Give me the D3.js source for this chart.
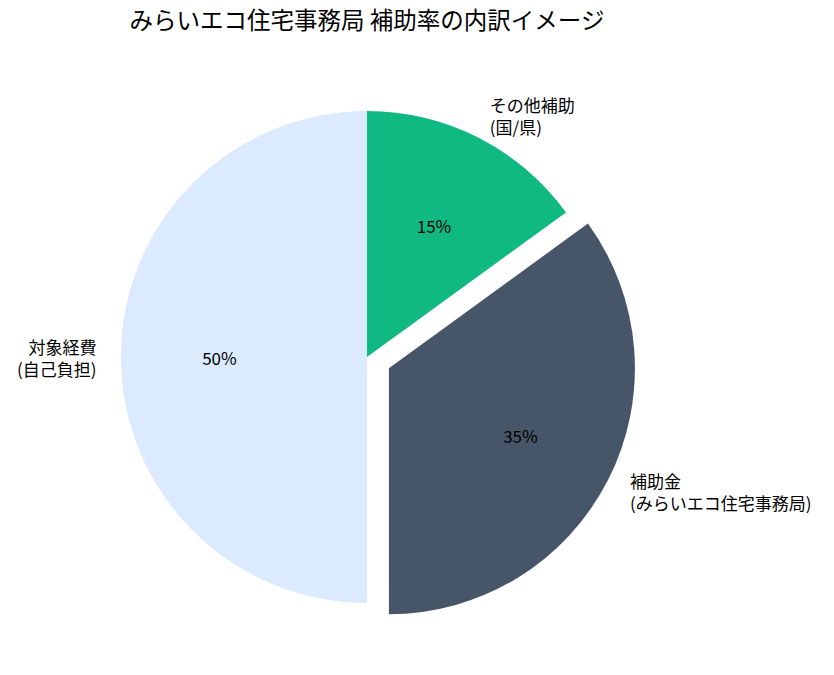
<!DOCTYPE html>
<html><head><meta charset="utf-8">
<script src="https://cdn.jsdelivr.net/npm/d3@7"></script>
<style>body{margin:0;background:#fff}text{font-family:"Noto Sans CJK JP","Noto Sans",sans-serif}</style>
</head><body><div id="chart"></div>
<script>
// Slice data, listed clockwise from 12 o'clock
const labels = [["その他補助", "(国/県)"], ["補助金", "(みらいエコ住宅事務局)"], ["対象経費", "(自己負担)"]];
const values = [15, 35, 50];
const colors = ["#10b981", "#475569", "#dbeafe"];
const explode = [0, 0.1, 0];

const width = 834, height = 675;
const cx = 367, cy = 357, r = 246;

const svg = d3.select("#chart").append("svg")
    .attr("width", width).attr("height", height);

svg.append("text")
    .attr("x", cx).attr("y", 29)
    .attr("text-anchor", "middle")
    .style("font-size", "23.5px")
    .text("みらいエコ住宅事務局 補助率の内訳イメージ");

const pie = d3.pie().sort(null).value(d => d.v);
const arcs = pie(values.map((v, i) => ({ v, i })));
const arc = d3.arc().innerRadius(0).outerRadius(r);

const g = svg.append("g").attr("transform", `translate(${cx},${cy})`);

arcs.forEach(a => {
    const i = a.data.i;
    const mid = (a.startAngle + a.endAngle) / 2;
    const dx = Math.sin(mid), dy = -Math.cos(mid);
    const off = explode[i] * r;
    const wg = g.append("g").attr("transform", `translate(${dx * off},${dy * off})`);
    wg.append("path").attr("d", arc(a)).attr("fill", colors[i]);

    wg.append("text")
        .attr("x", dx * r * 0.6).attr("y", dy * r * 0.6)
        .attr("text-anchor", "middle").attr("dominant-baseline", "central")
        .style("font-size", "17px")
        .text(values[i] + "%");

    const lx = dx * r * 1.1, ly = dy * r * 1.1;
    const lh = 22;
    const t = wg.append("text")
        .attr("text-anchor", dx > 0 ? "start" : "end")
        .style("font-size", "17px");
    labels[i].forEach((line, k) => {
        t.append("tspan")
            .attr("x", lx)
            .attr("y", ly + (k - (labels[i].length - 1) / 2) * lh)
            .attr("dominant-baseline", "central")
            .text(line);
    });
});
</script></body></html>
